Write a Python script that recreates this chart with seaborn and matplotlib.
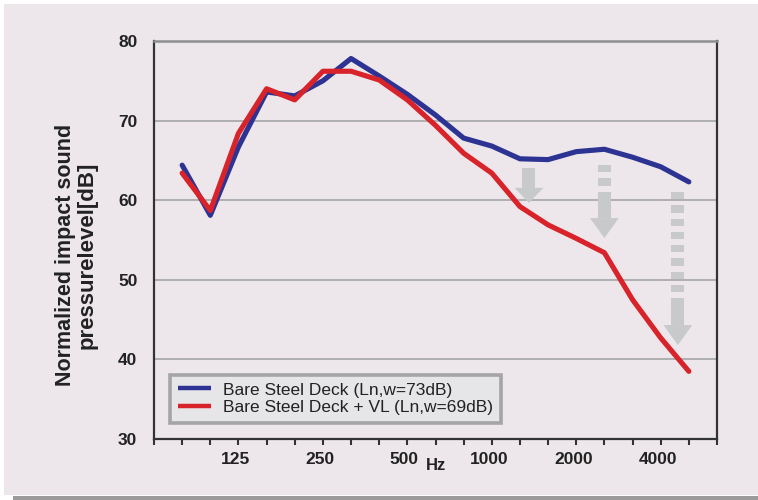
import matplotlib
matplotlib.use("Agg")
import matplotlib.pyplot as plt
from matplotlib.patches import Rectangle, Polygon
import matplotlib.transforms as mtransforms
import pandas as pd
import seaborn as sns

# One-third octave band centres spanning the frequency axis
bands = ["63", "80", "100", "125", "160", "200", "250", "315", "400", "500",
         "630", "800", "1000", "1250", "1600", "2000", "2500", "3150", "4000",
         "5000", "6300"]
labeled_bands = ["125", "250", "500", "1000", "2000", "4000"]

# Measured bands
freqs = ["80", "100", "125", "160", "200", "250", "315", "400", "500", "630",
         "800", "1000", "1250", "1600", "2000", "2500", "3150", "4000", "5000"]

# Normalized impact sound pressure level [dB]
bare_deck = [64.4, 58.1, 66.7, 73.6, 73.1, 75.0, 77.8, 75.6, 73.3, 70.7,
             67.8, 66.8, 65.2, 65.1, 66.1, 66.4, 65.4, 64.2, 62.3]
bare_deck_vl = [63.4, 58.7, 68.4, 74.0, 72.6, 76.2, 76.2, 75.1, 72.6, 69.4,
                65.9, 63.4, 59.2, 56.9, 55.2, 53.4, 47.5, 42.7, 38.5]

series_names = ["Bare Steel Deck (Ln,w=73dB)",
                "Bare Steel Deck + VL (Ln,w=69dB)"]

# Reduction arrows: band position, top of arrow, tip, dashed segments, head length
arrow_pos = [13.32, 16.0, 18.61]
arrow_top = [64.05, 64.42, 61.03]
arrow_tip = [59.65, 55.25, 41.81]
arrow_dashes = [0, 2, 8]
arrow_head = [1.9, 2.5, 2.5]

BG = "#ede7eb"
BLUE = "#2d3393"
RED = "#d8232a"
ARROW = "#c8c9cb"
TEXT = "#222222"

df = pd.DataFrame({
    "band": freqs + freqs,
    "level": bare_deck + bare_deck_vl,
    "series": [series_names[0]] * len(freqs) + [series_names[1]] * len(freqs),
})
df["pos"] = df["band"].map(bands.index)

sns.set_theme(style="white")
plt.rcParams["font.family"] = ["Liberation Sans", "DejaVu Sans"]

fig = plt.figure(figsize=(7.58, 5.0), dpi=100)
fig.patch.set_facecolor("white")
fig.add_artist(Rectangle((4 / 758, 5 / 500), 754 / 758, 491 / 500,
                         transform=fig.transFigure, facecolor=BG,
                         edgecolor="none", zorder=-10))
fig.add_artist(Rectangle((13 / 758, 0), 745 / 758, 4 / 500,
                         transform=fig.transFigure, facecolor="#9b9b9b",
                         edgecolor="none", zorder=-10))

ax = fig.add_axes([154 / 758, 61 / 500, 563 / 758, 398 / 500])
ax.set_facecolor(BG)

sns.lineplot(data=df, x="pos", y="level", hue="series",
             palette=[BLUE, RED], linewidth=3.7, ax=ax, zorder=5)
for line in ax.lines:
    line.set_solid_capstyle("round")
    line.set_solid_joinstyle("round")

# Gray reduction arrows (dashed lead-in, solid shaft, triangular head)
shaft_half, head_half = 0.23, 0.51
dash_len, dash_period = 0.92, 1.67
for x, top, tip, nd, hl in zip(arrow_pos, arrow_top, arrow_tip,
                               arrow_dashes, arrow_head):
    for i in range(nd):
        y0 = top - i * dash_period
        ax.add_patch(Rectangle((x - shaft_half, y0 - dash_len), 2 * shaft_half,
                               dash_len, facecolor=ARROW, edgecolor="none",
                               zorder=3))
    shaft_top = top - nd * dash_period
    head_start = tip + hl
    ax.add_patch(Rectangle((x - shaft_half, head_start), 2 * shaft_half,
                           shaft_top - head_start, facecolor=ARROW,
                           edgecolor="none", zorder=3))
    ax.add_patch(Polygon([(x - head_half, head_start), (x + head_half, head_start),
                          (x, tip)], closed=True, facecolor=ARROW,
                         edgecolor="none", zorder=3))

ax.set_xlim(0, len(bands) - 1)
ax.set_ylim(30, 80)
ax.set_xticks(range(len(bands)))
ax.set_xticklabels([b if b in labeled_bands else "" for b in bands])
ax.set_yticks([30, 40, 50, 60, 70, 80])
ax.set_xlabel("")
ax.set_ylabel("")

ax.yaxis.grid(True, color="#a5a5a5", linewidth=1.2)
ax.xaxis.grid(False)
ax.set_axisbelow(True)

for side in ["left", "bottom", "right"]:
    ax.spines[side].set_color("#333333")
    ax.spines[side].set_linewidth(1.6)
ax.spines["top"].set_color("#8e8e8e")
ax.spines["top"].set_linewidth(1.8)

ax.tick_params(axis="x", direction="out", length=4, width=1.5,
               color="#333333", pad=5, labelsize=12.5, labelcolor=TEXT,
               bottom=True)
ax.tick_params(axis="y", length=0, pad=12, labelsize=12.5, labelcolor=TEXT,
               left=True)
shift = mtransforms.ScaledTranslation(-3 / 100, 0, fig.dpi_scale_trans)
for lbl in ax.get_xticklabels():
    lbl.set_fontweight("bold")
    lbl.set_transform(lbl.get_transform() + shift)
for lbl in ax.get_yticklabels():
    lbl.set_fontweight("bold")

ax.text(0.501, -0.066, "Hz", transform=ax.transAxes, ha="center", va="center",
        fontsize=12, fontweight="bold", color=TEXT)

# Two-line y-axis title
ax.text(-0.158, 0.462, "Normalized impact sound", transform=ax.transAxes,
        rotation=90, ha="center", va="center", fontsize=15.5,
        fontweight="bold", color=TEXT)
ax.text(-0.119, 0.462, "pressurelevel[dB]", transform=ax.transAxes,
        rotation=90, ha="center", va="center", fontsize=16,
        fontweight="bold", color=TEXT)

handles, labels = ax.get_legend_handles_labels()
leg = ax.legend(handles, labels, loc="lower left",
                bbox_to_anchor=(0.028, 0.040), borderaxespad=0,
                frameon=True, fancybox=False, fontsize=12.5,
                handlelength=1.95, handletextpad=0.65, borderpad=0.45,
                labelspacing=0.15, facecolor="#e6e6e8", edgecolor="#a5a5a5",
                framealpha=1)
leg.get_frame().set_linewidth(2.6)
for h in leg.get_lines():
    h.set_linewidth(3.2)
    h.set_solid_capstyle("butt")
for t in leg.get_texts():
    t.set_color(TEXT)

fig.savefig("out.png", dpi=100, facecolor=fig.get_facecolor())
